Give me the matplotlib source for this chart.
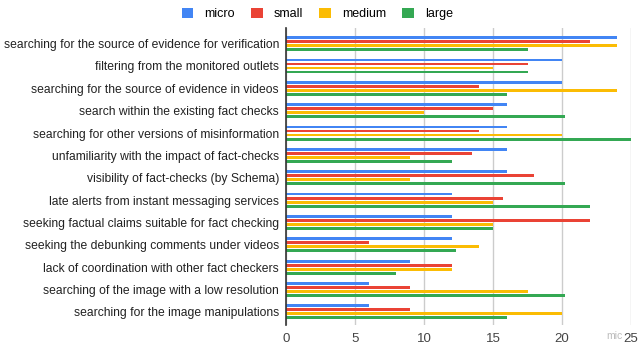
import numpy as np
import matplotlib.pyplot as plt

plt.rcParams['font.family'] = ['Liberation Sans', 'DejaVu Sans']

# categories, top to bottom
tasks = ['searching for the source of evidence for verification',
         'filtering from the monitored outlets',
         'searching for the source of evidence in videos',
         'search within the existing fact checks',
         'searching for other versions of misinformation',
         'unfamiliarity with the impact of fact-checks',
         'visibility of fact-checks (by Schema)',
         'late alerts from instant messaging services',
         'seeking factual claims suitable for fact checking',
         'seeking the debunking comments under videos',
         'lack of coordination with other fact checkers',
         'searching of the image with a low resolution',
         'searching for the image manipulations']

micro = [24, 20, 20, 16, 16, 16, 16, 12, 12, 12, 9, 6, 6]
small = [22, 17.5, 14, 15, 14, 13.5, 18, 15.7, 22, 6, 12, 9, 9]
medium = [24, 15, 24, 10, 20, 9, 9, 15, 15, 14, 12, 17.5, 20]
large = [17.5, 17.5, 16, 20.25, 25, 12, 20.25, 22, 15, 12.3, 8, 20.25, 16]

series = [('micro', micro, '#4285F4'),
          ('small', small, '#EA4335'),
          ('medium', medium, '#FBBC04'),
          ('large', large, '#34A853')]

fig = plt.figure(figsize=(6.4, 3.48), dpi=100)
ax = fig.add_axes([286/640, 23/348, 345/640, 297/348])

y = np.arange(len(tasks))
offsets = [-0.27, -0.09, 0.09, 0.27]
for (name, vals, col), off in zip(series, offsets):
    ax.barh(y + off, vals, height=0.13, color=col, label=name, zorder=3)

ax.set_xlim(0, 25)
ax.set_ylim(len(tasks) - 1 + 0.59, -0.70)
ax.set_yticks(y)
ax.set_yticklabels(tasks, fontsize=8.7, color='#222222')
ax.set_xticks([0, 5, 10, 15, 20, 25])
ax.tick_params(axis='x', labelsize=9.5, colors='#444444', length=0, pad=6)
ax.tick_params(axis='y', length=0, pad=5)
ax.grid(axis='x', color='#cccccc', linewidth=1, zorder=0)
for s in ['top', 'right', 'bottom']:
    ax.spines[s].set_visible(False)
ax.spines['left'].set_color('#333333')
ax.spines['left'].set_linewidth(1.2)
ax.spines['left'].set_zorder(4)

fig.legend(loc='upper center', bbox_to_anchor=(0.496, 1.01), ncol=4, frameon=False,
           fontsize=9, handlelength=0.9, handleheight=0.9, columnspacing=1.3,
           handletextpad=0.9)
fig.text(0.947, 0.02, 'mic', fontsize=7.5, color='#bbbbbb', ha='left', va='bottom')

fig.savefig('out.png', dpi=100)
